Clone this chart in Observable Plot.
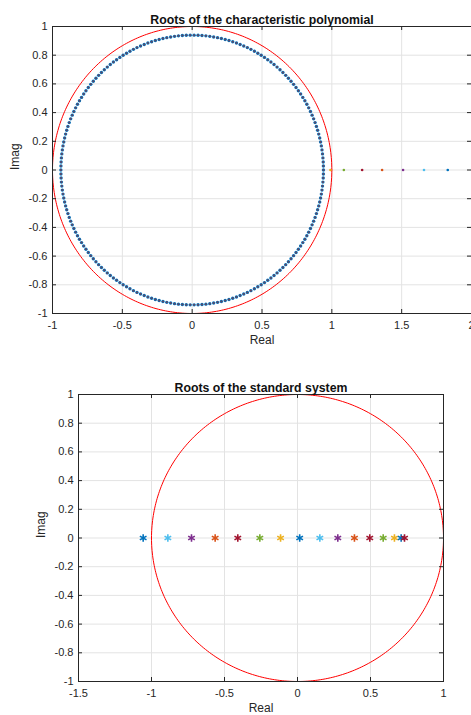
<!DOCTYPE html>
<html>
<head>
<meta charset="utf-8">
<script src="https://cdn.jsdelivr.net/npm/d3@7"></script>
<script src="https://cdn.jsdelivr.net/npm/@observablehq/plot@0.6"></script>
<style>
  html, body { margin: 0; padding: 0; background: #fff; }
  #c { width: 471px; }
  #c svg { display: block; }
</style>
</head>
<body>
<div id="c"></div>
<script>
// ---------- data ----------
// top panel: complex roots lie on a circle of this radius, count of roots
const charRootRadius = 0.94;
const charRootCount = 210;
// real roots of the characteristic polynomial (on the real axis)
const charRealX = [0.99, 1.086, 1.217, 1.36, 1.51, 1.66, 1.83];
const charRealColor = ["#EDB120", "#77AC30", "#A2142F", "#D95319", "#7E2F8E", "#4DBEEE", "#0072BD"];
// bottom panel: roots of the standard system (all real)
const stdX = [-1.057, -0.888, -0.726, -0.564, -0.409, -0.258, -0.116, 0.015, 0.153, 0.276, 0.39, 0.495, 0.587, 0.664, 0.71, 0.733];
const stdColor = ["#0072BD", "#4DBEEE", "#7E2F8E", "#D95319", "#A2142F", "#77AC30", "#EDB120",
                  "#0072BD", "#4DBEEE", "#7E2F8E", "#D95319", "#A2142F", "#77AC30", "#EDB120", "#0072BD", "#A2142F"];
// axis ticks
const topXTicks = [-1, -0.5, 0, 0.5, 1, 1.5, 2];
const topYTicks = [-1, -0.8, -0.6, -0.4, -0.2, 0, 0.2, 0.4, 0.6, 0.8, 1];
const botXTicks = [-1.5, -1, -0.5, 0, 0.5, 1];
const botYTicks = topYTicks;

// derived tables
const charRoots = d3.range(charRootCount).map(i => {
  const a = 2 * Math.PI * i / charRootCount;
  return {x: charRootRadius * Math.cos(a), y: charRootRadius * Math.sin(a)};
});
const unitCircle = d3.range(0, 361).map(d => ({x: Math.cos(d * Math.PI / 180), y: Math.sin(d * Math.PI / 180)}));
const charReal = charRealX.map((x, i) => ({x, y: 0, c: charRealColor[i]}));
const stdRoots = stdX.map((x, i) => ({x, y: 0, c: stdColor[i]}));

const FONT = "'Liberation Sans', Arial, Helvetica, sans-serif";
const INK = "#262626";
const GRID = "#e3e3e3";

function boxTicks(xt, yt, xd, yd, w, h) {
  const lx = 4 * (xd[1] - xd[0]) / w;
  const ly = 4 * (yd[1] - yd[0]) / h;
  return [
    Plot.ruleX(xt, {x: d => d, y1: yd[0], y2: yd[0] + ly, stroke: INK}),
    Plot.ruleX(xt, {x: d => d, y1: yd[1], y2: yd[1] - ly, stroke: INK}),
    Plot.ruleY(yt, {y: d => d, x1: xd[0], x2: xd[0] + lx, stroke: INK}),
    Plot.ruleY(yt, {y: d => d, x1: xd[1], x2: xd[1] - lx, stroke: INK})
  ];
}

function panel({title, xd, yd, xt, yt, height, mt, mb, ml, mr, marks}) {
  const w = 471 - ml - mr, h = height - mt - mb;
  return Plot.plot({
    width: 471, height,
    marginTop: mt, marginBottom: mb, marginLeft: ml, marginRight: mr,
    style: {fontFamily: FONT, fontSize: "11px", color: INK, background: "#fff", overflow: "visible"},
    x: {domain: xd, ticks: xt, label: null},
    y: {domain: yd, ticks: yt, label: null},
    marks: [
      Plot.gridX(xt, {stroke: GRID, strokeOpacity: 1, strokeWidth: 1}),
      Plot.gridY(yt, {stroke: GRID, strokeOpacity: 1, strokeWidth: 1}),
      ...marks,
      Plot.frame({stroke: INK, strokeWidth: 1}),
      ...boxTicks(xt, yt, xd, yd, w, h),
      Plot.axisX(xt, {anchor: "bottom", tickSize: 0, tickPadding: 8, fill: INK, fontSize: 11, tickFormat: d => String(d), label: null}),
      Plot.axisY(yt, {anchor: "left", tickSize: 0, tickPadding: 5, fill: INK, fontSize: 11, tickFormat: d => String(d), label: null}),
      Plot.text([title], {frameAnchor: "top", dy: -11, fontWeight: "bold", fontSize: 12.3, fill: "#111"}),
      Plot.text(["Real"], {frameAnchor: "bottom", dy: 30, fontSize: 12, fill: INK}),
      Plot.text(["Imag"], {frameAnchor: "left", dx: -37, rotate: -90, fontSize: 12, fill: INK})
    ]
  });
}

const topPanel = panel({
  title: "Roots of the characteristic polynomial",
  xd: [-1, 2], yd: [-1, 1], xt: topXTicks, yt: topYTicks,
  height: 350, mt: 26, mb: 37, ml: 52, mr: 0,
  marks: [
    Plot.line(unitCircle, {x: "x", y: "y", stroke: "#ff0000", strokeWidth: 1}),
    Plot.dot(charRoots, {x: "x", y: "y", r: 1.7, fill: "#0072BD", stroke: "none"}),
    Plot.dot(charRoots, {x: "x", y: "y", r: 1.0, fill: "#7a3a4a", stroke: "none", fillOpacity: 0.85}),
    Plot.dot(charReal, {x: "x", y: "y", r: 1.3, fill: "c", stroke: "none"})
  ]
});

const botPanel = panel({
  title: "Roots of the standard system",
  xd: [-1.5, 1], yd: [-1, 1], xt: botXTicks, yt: botYTicks,
  height: 365, mt: 44, mb: 34, ml: 78, mr: 28,
  marks: [
    Plot.line(unitCircle, {x: "x", y: "y", stroke: "#ff0000", strokeWidth: 1}),
    Plot.dot(stdRoots, {x: "x", y: "y", symbol: "asterisk", r: 3.6, stroke: "c", strokeWidth: 1.6})
  ]
});

document.getElementById("c").append(topPanel, botPanel);
</script>
</body>
</html>
